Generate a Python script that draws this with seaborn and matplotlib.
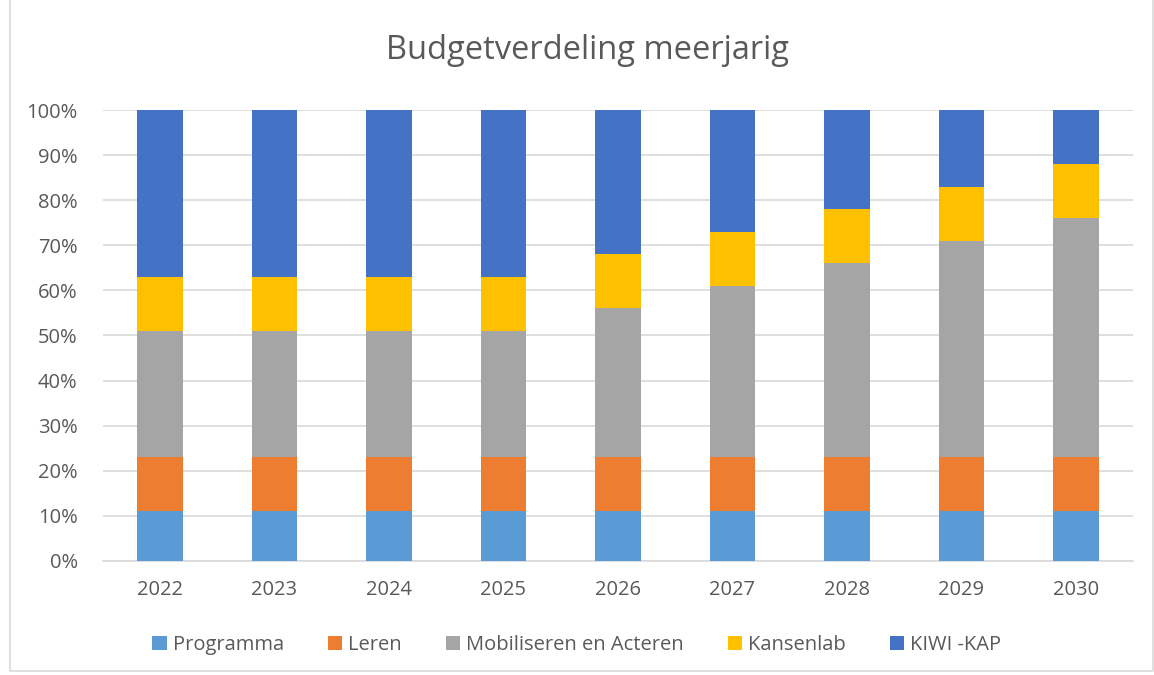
import numpy as np
import pandas as pd
import matplotlib
matplotlib.use('Agg')
import matplotlib.pyplot as plt
import seaborn as sns
from matplotlib.patches import Rectangle, Patch

years = ['2022', '2023', '2024', '2025', '2026', '2027', '2028', '2029', '2030']
programma = [11, 11, 11, 11, 11, 11, 11, 11, 11]
leren = [12, 12, 12, 12, 12, 12, 12, 12, 12]
mobiliseren = [28, 28, 28, 28, 33, 38, 43, 48, 53]
kansenlab = [12, 12, 12, 12, 12, 12, 12, 12, 12]
kiwi = [37, 37, 37, 37, 32, 27, 22, 17, 12]

series = ['Programma', 'Leren', 'Mobiliseren en Acteren', 'Kansenlab', 'KIWI -KAP']
colors = ['#5B9BD5', '#ED7D31', '#A5A5A5', '#FFC000', '#4472C4']

sns.set_style('white')
plt.rcParams['font.family'] = ['Open Sans', 'DejaVu Sans']
txt = '#595959'

df = pd.DataFrame({'jaar': years, 'Programma': programma, 'Leren': leren,
                   'Mobiliseren en Acteren': mobiliseren, 'Kansenlab': kansenlab,
                   'KIWI -KAP': kiwi})
tot = df[series].sum(axis=1)
for s in series:
    df[s] = df[s] / tot * 100
cum = df[series].cumsum(axis=1)

fig = plt.figure(figsize=(11.54, 6.75), dpi=100)
ax = fig.add_axes([0.089, 0.169, 0.893, 0.668])

# draw cumulative tops from the top down so lower layers cover upper ones
for s, c in reversed(list(zip(series, colors))):
    sns.barplot(x=df['jaar'], y=cum[s], color=c, width=0.4, ax=ax,
                saturation=1, linewidth=0, zorder=3)

ax.set_ylim(0, 100)
ax.set_yticks(np.arange(0, 101, 10))
ax.set_yticklabels([f'{v}%' for v in range(0, 101, 10)])
ax.yaxis.grid(True, color='#D9D9D9', linewidth=1.2, zorder=0)
ax.set_axisbelow(True)
for sp in ['top', 'right', 'left']:
    ax.spines[sp].set_visible(False)
ax.spines['bottom'].set_color('#D9D9D9')
ax.spines['bottom'].set_linewidth(1.2)
ax.tick_params(axis='y', length=0, labelsize=14.5, labelcolor=txt, pad=18)
ax.tick_params(axis='x', length=0, labelsize=14.5, labelcolor=txt, pad=14)
ax.set_xlabel('')
ax.set_ylabel('')

fig.suptitle('Budgetverdeling meerjarig', x=0.509, y=0.95, fontsize=23.5, color=txt)

handles = [Patch(facecolor=c, edgecolor='none') for c in colors]
fig.legend(handles, series, loc='center', bbox_to_anchor=(0.5, 0.044), ncol=5,
           frameon=False, fontsize=14.5, labelcolor=txt, handlelength=0.7,
           handleheight=0.7, handletextpad=0.3, columnspacing=2.2)

fig.patches.append(Rectangle((0.009, 0.006), 0.99, 1.1, transform=fig.transFigure,
                             fill=False, edgecolor='#D9D9D9', linewidth=1.2))

fig.savefig('out.png', dpi=100)
